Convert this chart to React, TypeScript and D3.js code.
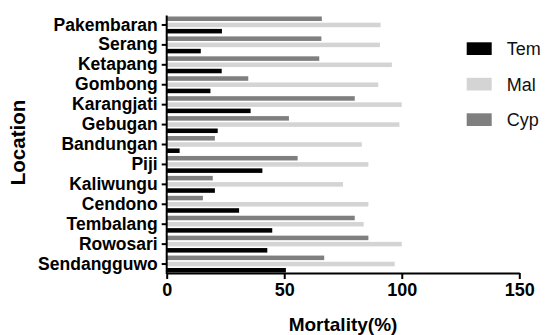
import React, { useEffect, useRef } from "react";
import * as d3 from "d3";

const locations = [
  "Pakembaran", "Serang", "Ketapang", "Gombong", "Karangjati", "Gebugan",
  "Bandungan", "Piji", "Kaliwungu", "Cendono", "Tembalang", "Rowosari", "Sendangguwo"
];
const temValues = [23.5, 14.5, 23.4, 18.6, 35.7, 21.7, 5.5, 40.7, 20.5, 30.8, 44.9, 42.8, 50.7];
const malValues = [91, 90.7, 95.8, 90, 100, 99, 83, 85.8, 75, 85.8, 83.8, 100, 97];
const cypValues = [66, 65.8, 64.9, 34.7, 80, 52, 20.5, 55.7, 19.6, 15.4, 80, 85.8, 67];
const seriesNames = ["Tem", "Mal", "Cyp"];
const xTicks = [0, 50, 100, 150];

export default function App() {
  const ref = useRef<SVGSVGElement>(null);

  useEffect(() => {
    const width = 547;
    const height = 335;
    const margin = { top: 15, right: 28, bottom: 62, left: 166.7 };
    const axisY = 273;
    const font = "Liberation Sans, Arial, sans-serif";

    const svg = d3.select(ref.current);
    svg.selectAll("*").remove();

    // ==========================
    // Scales
    // ==========================
    const x = d3.scaleLinear()
      .domain([0, 150])
      .range([margin.left, 519.3]);

    const y = d3.scaleBand()
      .domain(locations)
      .range([margin.top, 274])
      .padding(0);

    // bars inside each band, top to bottom: Cyp, Mal, Tem
    const inner = d3.scaleBand()
      .domain(["Cyp", "Mal", "Tem"])
      .range([0, y.bandwidth()])
      .paddingInner(0.27)
      .paddingOuter(0.24);

    const color = d3.scaleOrdinal<string, string>()
      .domain(seriesNames)
      .range(["#000000", "#d4d4d4", "#7f7f7f"]);

    const rows = locations.flatMap((loc, i) => [
      { loc, key: "Cyp", value: cypValues[i] },
      { loc, key: "Mal", value: malValues[i] },
      { loc, key: "Tem", value: temValues[i] }
    ]);

    // ==========================
    // Bars
    // ==========================
    svg.append("g")
      .selectAll("rect")
      .data(rows)
      .enter()
      .append("rect")
      .attr("x", x(0))
      .attr("y", d => (y(d.loc) as number) + (inner(d.key) as number))
      .attr("width", d => x(d.value) - x(0))
      .attr("height", inner.bandwidth())
      .attr("fill", d => color(d.key));

    // ==========================
    // Axes
    // ==========================
    const xAxis = svg.append("g")
      .attr("transform", `translate(0,${axisY})`)
      .call(d3.axisBottom(x).tickValues(xTicks).tickSize(6).tickPadding(4).tickSizeOuter(0));
    xAxis.select(".domain").attr("stroke", "#000").attr("stroke-width", 2);
    xAxis.selectAll(".tick line").attr("stroke", "#000").attr("stroke-width", 2);
    xAxis.selectAll(".tick text")
      .attr("fill", "#000")
      .attr("font-family", font)
      .attr("font-weight", "bold")
      .attr("font-size", "18px");

    const yAxis = svg.append("g")
      .attr("transform", `translate(${margin.left},0)`)
      .call(d3.axisLeft(y).tickSize(5).tickPadding(4).tickSizeOuter(0));
    yAxis.select(".domain").remove();
    yAxis.append("line")
      .attr("x1", 0).attr("x2", 0)
      .attr("y1", 15.5).attr("y2", axisY + 1)
      .attr("stroke", "#000")
      .attr("stroke-width", 2);
    yAxis.selectAll(".tick line").attr("stroke", "#000").attr("stroke-width", 2);
    yAxis.selectAll(".tick text")
      .attr("fill", "#000")
      .attr("font-family", font)
      .attr("font-weight", "bold")
      .attr("font-size", "17.5px");

    // ==========================
    // Axis titles
    // ==========================
    svg.append("text")
      .attr("x", (x(0) + x(150)) / 2)
      .attr("y", 331)
      .attr("text-anchor", "middle")
      .attr("font-family", font)
      .attr("font-weight", "bold")
      .attr("font-size", "19px")
      .text("Mortality(%)");

    svg.append("text")
      .attr("transform", "translate(24.5,142.5) rotate(-90)")
      .attr("text-anchor", "middle")
      .attr("font-family", font)
      .attr("font-weight", "bold")
      .attr("font-size", "20.5px")
      .text("Location");

    // ==========================
    // Legend
    // ==========================
    const legend = svg.append("g")
      .attr("transform", "translate(466.7,42.3)");

    const items = legend.selectAll("g")
      .data(seriesNames)
      .enter()
      .append("g")
      .attr("transform", (d, i) => `translate(0,${i * 35.5})`);

    items.append("rect")
      .attr("width", 25)
      .attr("height", 12.7)
      .attr("fill", d => color(d));

    items.append("text")
      .attr("x", 40)
      .attr("y", 6.5)
      .attr("dy", "0.35em")
      .attr("font-family", font)
      .attr("font-size", "18px")
      .attr("fill", "#111")
      .text(d => d);

    svg.attr("width", width).attr("height", height);
  }, []);

  return (
    <svg
      ref={ref}
      width={547}
      height={335}
      style={{ position: "absolute", left: 0, top: 0, background: "#fff" }}
    />
  );
}
